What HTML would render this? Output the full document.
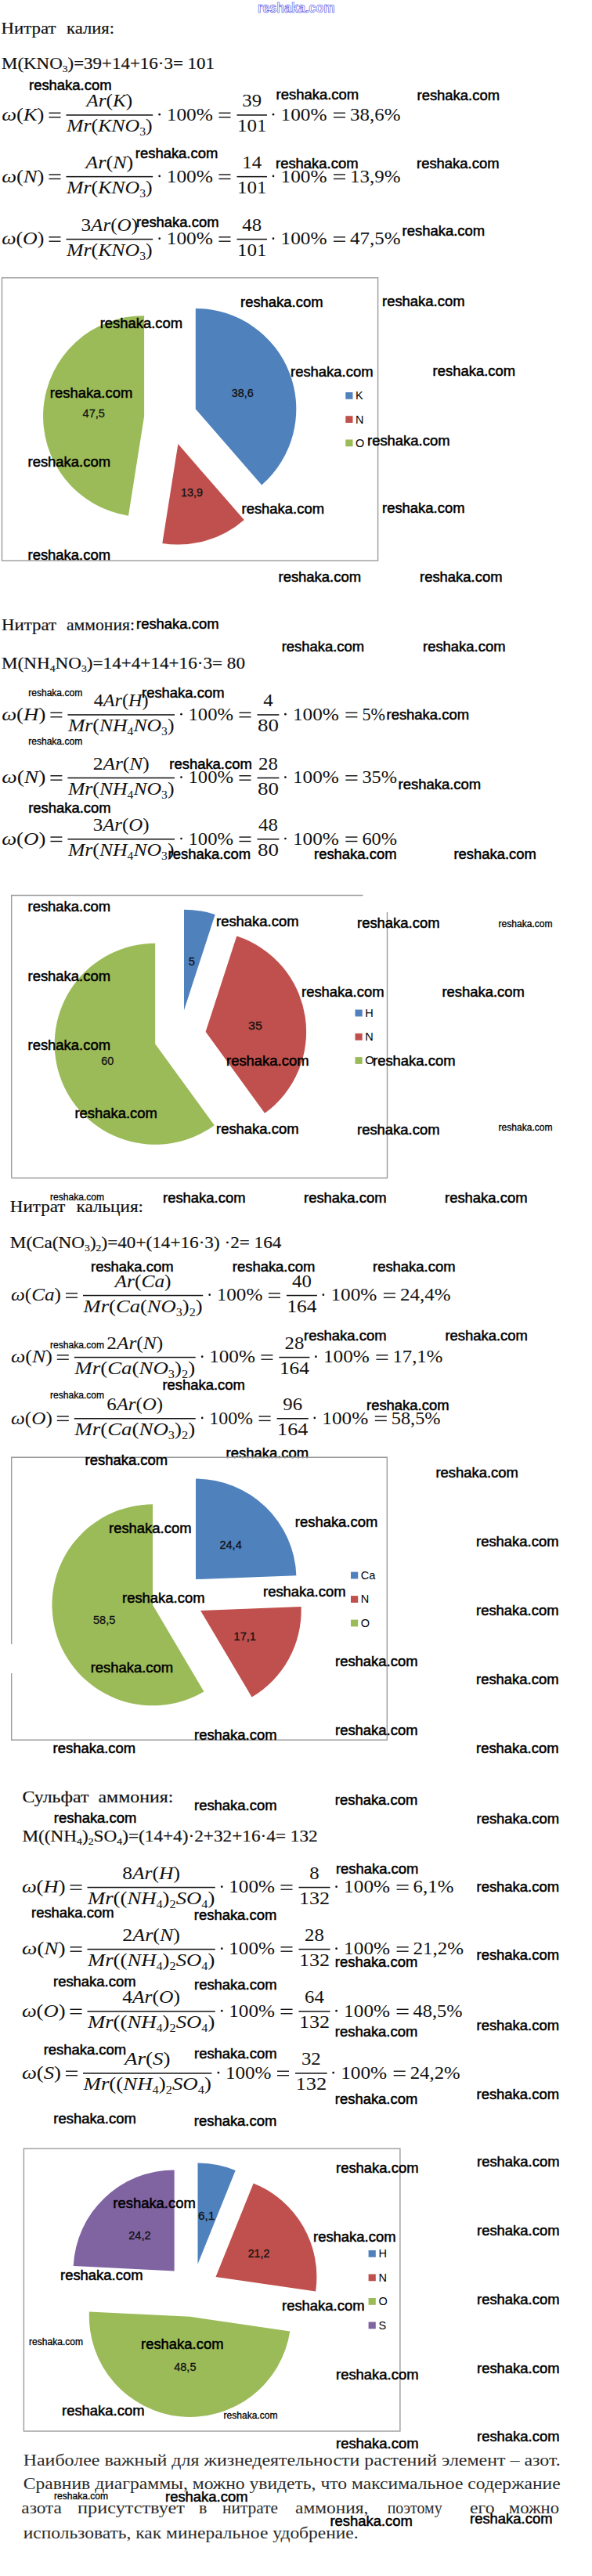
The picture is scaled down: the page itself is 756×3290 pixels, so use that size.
<!DOCTYPE html>
<html><head><meta charset="utf-8"><title>Нитраты</title>
<style>
html,body{margin:0;padding:0;background:#fff;}
body{width:756px;height:3290px;overflow:hidden;}
svg{display:block;}
text{fill:#111;}
.h{font-family:"Liberation Serif",serif;font-size:22px;stroke:#111;stroke-width:0.2;}
.p{font-family:"Liberation Serif",serif;font-size:20.5px;fill:#2a2a2a;}
.sub{font-size:13px;}
.f{font-family:"Liberation Serif",serif;font-size:23px;}
.i{font-style:italic;}
.fsub{font-size:14px;}
.wl{font-family:"Liberation Sans",sans-serif;font-size:18px;fill:#000;stroke:#000;stroke-width:0.5;}
.ws{font-family:"Liberation Sans",sans-serif;font-size:12.5px;fill:#000;stroke:#000;stroke-width:0.3;}
.lb{font-family:"Liberation Sans",sans-serif;font-size:15px;fill:#111;stroke:#111;stroke-width:0.3;}
.lg{font-family:"Liberation Sans",sans-serif;font-size:14.5px;fill:#000;}
.top{font-family:"Liberation Sans",sans-serif;font-weight:bold;font-size:17.5px;fill:#fff;stroke:#3a3ae0;stroke-width:0.6;}
</style></head>
<body>
<svg width="756" height="3290" viewBox="0 0 756 3290">
<text x="329.0" y="16.3" class="top" textLength="98.5" lengthAdjust="spacingAndGlyphs">reshaka.com</text>
<text x="1.5" y="42.6" class="h" textLength="70.0" lengthAdjust="spacingAndGlyphs">Нитрат</text>
<text x="85.0" y="42.6" class="h" textLength="61.0" lengthAdjust="spacingAndGlyphs">калия:</text>
<text x="2.0" y="88.0" class="h" textLength="272.0" lengthAdjust="spacingAndGlyphs">M(KNO<tspan class="sub" dy="4">3</tspan><tspan dy="-4">)=39+14+16·3= 101</tspan></text>
<text x="2.2" y="153.8" class="f" textLength="54.3" lengthAdjust="spacingAndGlyphs"><tspan class="i">ω</tspan>(<tspan class="i">K</tspan>)</text>
<rect x="62.5" y="143.6" width="15" height="1.4" fill="#111"/><rect x="62.5" y="149.0" width="15" height="1.4" fill="#111"/>
<rect x="84.5" y="146.2" width="110.7" height="1.5" fill="#111"/>
<text x="110.3" y="136.0" class="f" textLength="59.0" lengthAdjust="spacingAndGlyphs"><tspan class="i">Ar</tspan>(<tspan class="i">K</tspan>)</text>
<text x="85.0" y="168.3" class="f" textLength="109.7" lengthAdjust="spacingAndGlyphs"><tspan class="i">Mr</tspan>(<tspan class="i">KNO</tspan><tspan class="fsub" dy="5">3</tspan><tspan dy="-5">)</tspan></text>
<circle cx="203.7" cy="146.2" r="1.35" fill="#111"/>
<text x="212.7" y="153.8" class="f" textLength="59.3" lengthAdjust="spacingAndGlyphs">100%</text>
<rect x="279.5" y="143.6" width="15" height="1.4" fill="#111"/><rect x="279.5" y="149.0" width="15" height="1.4" fill="#111"/>
<rect x="302.5" y="146.2" width="38.5" height="1.5" fill="#111"/>
<text x="309.3" y="136.0" class="f" textLength="24.8" lengthAdjust="spacingAndGlyphs">39</text>
<text x="303.0" y="168.3" class="f" textLength="37.5" lengthAdjust="spacingAndGlyphs">101</text>
<circle cx="349.0" cy="146.2" r="1.35" fill="#111"/>
<text x="358.5" y="153.8" class="f" textLength="59.0" lengthAdjust="spacingAndGlyphs">100%</text>
<rect x="426.0" y="143.6" width="15" height="1.4" fill="#111"/><rect x="426.0" y="149.0" width="15" height="1.4" fill="#111"/>
<text x="447.0" y="153.8" class="f" textLength="64.5" lengthAdjust="spacingAndGlyphs">38,6%</text>
<text x="2.2" y="232.5" class="f" textLength="54.3" lengthAdjust="spacingAndGlyphs"><tspan class="i">ω</tspan>(<tspan class="i">N</tspan>)</text>
<rect x="62.5" y="222.3" width="15" height="1.4" fill="#111"/><rect x="62.5" y="227.7" width="15" height="1.4" fill="#111"/>
<rect x="84.5" y="224.9" width="110.7" height="1.5" fill="#111"/>
<text x="109.3" y="214.7" class="f" textLength="61.0" lengthAdjust="spacingAndGlyphs"><tspan class="i">Ar</tspan>(<tspan class="i">N</tspan>)</text>
<text x="85.0" y="247.0" class="f" textLength="109.7" lengthAdjust="spacingAndGlyphs"><tspan class="i">Mr</tspan>(<tspan class="i">KNO</tspan><tspan class="fsub" dy="5">3</tspan><tspan dy="-5">)</tspan></text>
<circle cx="203.7" cy="224.9" r="1.35" fill="#111"/>
<text x="212.7" y="232.5" class="f" textLength="59.3" lengthAdjust="spacingAndGlyphs">100%</text>
<rect x="279.5" y="222.3" width="15" height="1.4" fill="#111"/><rect x="279.5" y="227.7" width="15" height="1.4" fill="#111"/>
<rect x="302.5" y="224.9" width="38.5" height="1.5" fill="#111"/>
<text x="309.3" y="214.7" class="f" textLength="24.8" lengthAdjust="spacingAndGlyphs">14</text>
<text x="303.0" y="247.0" class="f" textLength="37.5" lengthAdjust="spacingAndGlyphs">101</text>
<circle cx="349.0" cy="224.9" r="1.35" fill="#111"/>
<text x="358.5" y="232.5" class="f" textLength="59.0" lengthAdjust="spacingAndGlyphs">100%</text>
<rect x="426.0" y="222.3" width="15" height="1.4" fill="#111"/><rect x="426.0" y="227.7" width="15" height="1.4" fill="#111"/>
<text x="447.0" y="232.5" class="f" textLength="64.5" lengthAdjust="spacingAndGlyphs">13,9%</text>
<text x="2.2" y="312.3" class="f" textLength="54.3" lengthAdjust="spacingAndGlyphs"><tspan class="i">ω</tspan>(<tspan class="i">O</tspan>)</text>
<rect x="62.5" y="302.1" width="15" height="1.4" fill="#111"/><rect x="62.5" y="307.5" width="15" height="1.4" fill="#111"/>
<rect x="84.5" y="304.8" width="110.7" height="1.5" fill="#111"/>
<text x="103.5" y="294.5" class="f" textLength="72.6" lengthAdjust="spacingAndGlyphs">3<tspan class="i">Ar</tspan>(<tspan class="i">O</tspan>)</text>
<text x="85.0" y="326.8" class="f" textLength="109.7" lengthAdjust="spacingAndGlyphs"><tspan class="i">Mr</tspan>(<tspan class="i">KNO</tspan><tspan class="fsub" dy="5">3</tspan><tspan dy="-5">)</tspan></text>
<circle cx="203.7" cy="304.7" r="1.35" fill="#111"/>
<text x="212.7" y="312.3" class="f" textLength="59.3" lengthAdjust="spacingAndGlyphs">100%</text>
<rect x="279.5" y="302.1" width="15" height="1.4" fill="#111"/><rect x="279.5" y="307.5" width="15" height="1.4" fill="#111"/>
<rect x="302.5" y="304.8" width="38.5" height="1.5" fill="#111"/>
<text x="309.3" y="294.5" class="f" textLength="24.8" lengthAdjust="spacingAndGlyphs">48</text>
<text x="303.0" y="326.8" class="f" textLength="37.5" lengthAdjust="spacingAndGlyphs">101</text>
<circle cx="349.0" cy="304.7" r="1.35" fill="#111"/>
<text x="358.5" y="312.3" class="f" textLength="59.0" lengthAdjust="spacingAndGlyphs">100%</text>
<rect x="426.0" y="302.1" width="15" height="1.4" fill="#111"/><rect x="426.0" y="307.5" width="15" height="1.4" fill="#111"/>
<text x="447.0" y="312.3" class="f" textLength="64.5" lengthAdjust="spacingAndGlyphs">47,5%</text>
<text x="37.0" y="115.0" class="wl" textLength="105.5" lengthAdjust="spacingAndGlyphs">reshaka.com</text>
<text x="352.6" y="127.4" class="wl" textLength="105.5" lengthAdjust="spacingAndGlyphs">reshaka.com</text>
<text x="532.5" y="127.5" class="wl" textLength="105.5" lengthAdjust="spacingAndGlyphs">reshaka.com</text>
<text x="172.8" y="202.3" class="wl" textLength="105.5" lengthAdjust="spacingAndGlyphs">reshaka.com</text>
<text x="352.0" y="215.0" class="wl" textLength="105.5" lengthAdjust="spacingAndGlyphs">reshaka.com</text>
<text x="532.0" y="215.0" class="wl" textLength="105.5" lengthAdjust="spacingAndGlyphs">reshaka.com</text>
<text x="174.0" y="289.5" class="wl" textLength="105.5" lengthAdjust="spacingAndGlyphs">reshaka.com</text>
<text x="513.6" y="301.0" class="wl" textLength="105.5" lengthAdjust="spacingAndGlyphs">reshaka.com</text>
<rect x="2.5" y="354.8" width="480.1" height="361.2" fill="none" stroke="#9c9c9c" stroke-width="1.4"/>
<path d="M249.8,522.5 L249.8,394.0 A128.5,128.5 0 0 1 334.2,619.4 Z" fill="#4F81BD"/>
<path d="M227.4,567.1 L311.8,664.0 A128.5,128.5 0 0 1 207.3,694.0 Z" fill="#C0504D"/>
<path d="M184.1,531.7 L164.0,658.7 A128.5,128.5 0 0 1 184.1,403.2 Z" fill="#9BBB59"/>
<text x="295.7" y="506.8" class="lb" textLength="28.0" lengthAdjust="spacingAndGlyphs">38,6</text>
<text x="105.6" y="533.2" class="lb" textLength="28.4" lengthAdjust="spacingAndGlyphs">47,5</text>
<text x="231.1" y="634.3" class="lb" textLength="28.0" lengthAdjust="spacingAndGlyphs">13,9</text>
<rect x="441.3" y="501.0" width="9.2" height="8.8" fill="#4F81BD"/>
<text x="454.1" y="510.3" class="lg">K</text>
<rect x="441.3" y="531.2" width="9.2" height="8.8" fill="#C0504D"/>
<text x="454.1" y="540.5" class="lg">N</text>
<rect x="441.3" y="561.4" width="9.2" height="8.8" fill="#9BBB59"/>
<text x="454.1" y="570.7" class="lg">O</text>
<text x="307.0" y="392.0" class="wl" textLength="105.5" lengthAdjust="spacingAndGlyphs">reshaka.com</text>
<text x="488.0" y="391.4" class="wl" textLength="105.5" lengthAdjust="spacingAndGlyphs">reshaka.com</text>
<text x="127.7" y="419.0" class="wl" textLength="105.5" lengthAdjust="spacingAndGlyphs">reshaka.com</text>
<text x="63.8" y="507.5" class="wl" textLength="105.5" lengthAdjust="spacingAndGlyphs">reshaka.com</text>
<text x="371.0" y="480.6" class="wl" textLength="105.5" lengthAdjust="spacingAndGlyphs">reshaka.com</text>
<text x="552.6" y="480.0" class="wl" textLength="105.5" lengthAdjust="spacingAndGlyphs">reshaka.com</text>
<text x="469.0" y="569.0" class="wl" textLength="105.5" lengthAdjust="spacingAndGlyphs">reshaka.com</text>
<text x="35.5" y="596.0" class="wl" textLength="105.5" lengthAdjust="spacingAndGlyphs">reshaka.com</text>
<text x="308.5" y="655.7" class="wl" textLength="105.5" lengthAdjust="spacingAndGlyphs">reshaka.com</text>
<text x="488.0" y="655.0" class="wl" textLength="105.5" lengthAdjust="spacingAndGlyphs">reshaka.com</text>
<text x="35.5" y="714.6" class="wl" textLength="105.5" lengthAdjust="spacingAndGlyphs">reshaka.com</text>
<text x="355.5" y="742.6" class="wl" textLength="105.5" lengthAdjust="spacingAndGlyphs">reshaka.com</text>
<text x="536.0" y="742.6" class="wl" textLength="105.5" lengthAdjust="spacingAndGlyphs">reshaka.com</text>
<text x="2.0" y="805.0" class="h" textLength="70.0" lengthAdjust="spacingAndGlyphs">Нитрат</text>
<text x="85.0" y="805.0" class="h" textLength="87.0" lengthAdjust="spacingAndGlyphs">аммония:</text>
<text x="2.0" y="854.3" class="h" textLength="311.0" lengthAdjust="spacingAndGlyphs">M(NH<tspan class="sub" dy="4">4</tspan><tspan dy="-4">NO</tspan><tspan class="sub" dy="4">3</tspan><tspan dy="-4">)=14+4+14+16·3= 80</tspan></text>
<text x="2.2" y="919.8" class="f" textLength="56.2" lengthAdjust="spacingAndGlyphs"><tspan class="i">ω</tspan>(<tspan class="i">H</tspan>)</text>
<rect x="64.4" y="909.6" width="15" height="1.4" fill="#111"/><rect x="64.4" y="915.0" width="15" height="1.4" fill="#111"/>
<rect x="86.4" y="912.2" width="136.6" height="1.5" fill="#111"/>
<text x="119.7" y="902.0" class="f" textLength="70.0" lengthAdjust="spacingAndGlyphs">4<tspan class="i">Ar</tspan>(<tspan class="i">H</tspan>)</text>
<text x="86.9" y="934.3" class="f" textLength="135.6" lengthAdjust="spacingAndGlyphs"><tspan class="i">Mr</tspan>(<tspan class="i">NH</tspan><tspan class="fsub" dy="5">4</tspan><tspan class="i" dy="-5">NO</tspan><tspan class="fsub" dy="5">3</tspan><tspan dy="-5">)</tspan></text>
<circle cx="231.5" cy="912.2" r="1.35" fill="#111"/>
<text x="240.5" y="919.8" class="f" textLength="57.5" lengthAdjust="spacingAndGlyphs">100%</text>
<rect x="305.5" y="909.6" width="15" height="1.4" fill="#111"/><rect x="305.5" y="915.0" width="15" height="1.4" fill="#111"/>
<rect x="328.5" y="912.2" width="27.9" height="1.5" fill="#111"/>
<text x="336.2" y="902.0" class="f" textLength="12.4" lengthAdjust="spacingAndGlyphs">4</text>
<text x="329.0" y="934.3" class="f" textLength="26.9" lengthAdjust="spacingAndGlyphs">80</text>
<circle cx="364.4" cy="912.2" r="1.35" fill="#111"/>
<text x="373.9" y="919.8" class="f" textLength="59.0" lengthAdjust="spacingAndGlyphs">100%</text>
<rect x="441.4" y="909.6" width="15" height="1.4" fill="#111"/><rect x="441.4" y="915.0" width="15" height="1.4" fill="#111"/>
<text x="462.4" y="919.8" class="f" textLength="29.6" lengthAdjust="spacingAndGlyphs">5%</text>
<text x="2.2" y="1000.3" class="f" textLength="56.2" lengthAdjust="spacingAndGlyphs"><tspan class="i">ω</tspan>(<tspan class="i">N</tspan>)</text>
<rect x="64.4" y="990.1" width="15" height="1.4" fill="#111"/><rect x="64.4" y="995.5" width="15" height="1.4" fill="#111"/>
<rect x="86.4" y="992.8" width="136.6" height="1.5" fill="#111"/>
<text x="118.7" y="982.5" class="f" textLength="72.0" lengthAdjust="spacingAndGlyphs">2<tspan class="i">Ar</tspan>(<tspan class="i">N</tspan>)</text>
<text x="86.9" y="1014.8" class="f" textLength="135.6" lengthAdjust="spacingAndGlyphs"><tspan class="i">Mr</tspan>(<tspan class="i">NH</tspan><tspan class="fsub" dy="5">4</tspan><tspan class="i" dy="-5">NO</tspan><tspan class="fsub" dy="5">3</tspan><tspan dy="-5">)</tspan></text>
<circle cx="231.5" cy="992.7" r="1.35" fill="#111"/>
<text x="240.5" y="1000.3" class="f" textLength="57.5" lengthAdjust="spacingAndGlyphs">100%</text>
<rect x="305.5" y="990.1" width="15" height="1.4" fill="#111"/><rect x="305.5" y="995.5" width="15" height="1.4" fill="#111"/>
<rect x="328.5" y="992.8" width="27.9" height="1.5" fill="#111"/>
<text x="330.0" y="982.5" class="f" textLength="24.8" lengthAdjust="spacingAndGlyphs">28</text>
<text x="329.0" y="1014.8" class="f" textLength="26.9" lengthAdjust="spacingAndGlyphs">80</text>
<circle cx="364.4" cy="992.7" r="1.35" fill="#111"/>
<text x="373.9" y="1000.3" class="f" textLength="59.0" lengthAdjust="spacingAndGlyphs">100%</text>
<rect x="441.4" y="990.1" width="15" height="1.4" fill="#111"/><rect x="441.4" y="995.5" width="15" height="1.4" fill="#111"/>
<text x="462.4" y="1000.3" class="f" textLength="44.6" lengthAdjust="spacingAndGlyphs">35%</text>
<text x="2.2" y="1078.6" class="f" textLength="56.2" lengthAdjust="spacingAndGlyphs"><tspan class="i">ω</tspan>(<tspan class="i">O</tspan>)</text>
<rect x="64.4" y="1068.4" width="15" height="1.4" fill="#111"/><rect x="64.4" y="1073.8" width="15" height="1.4" fill="#111"/>
<rect x="86.4" y="1071.0" width="136.6" height="1.5" fill="#111"/>
<text x="118.7" y="1060.8" class="f" textLength="72.0" lengthAdjust="spacingAndGlyphs">3<tspan class="i">Ar</tspan>(<tspan class="i">O</tspan>)</text>
<text x="86.9" y="1093.1" class="f" textLength="135.6" lengthAdjust="spacingAndGlyphs"><tspan class="i">Mr</tspan>(<tspan class="i">NH</tspan><tspan class="fsub" dy="5">4</tspan><tspan class="i" dy="-5">NO</tspan><tspan class="fsub" dy="5">3</tspan><tspan dy="-5">)</tspan></text>
<circle cx="231.5" cy="1071.0" r="1.35" fill="#111"/>
<text x="240.5" y="1078.6" class="f" textLength="57.5" lengthAdjust="spacingAndGlyphs">100%</text>
<rect x="305.5" y="1068.4" width="15" height="1.4" fill="#111"/><rect x="305.5" y="1073.8" width="15" height="1.4" fill="#111"/>
<rect x="328.5" y="1071.0" width="27.9" height="1.5" fill="#111"/>
<text x="330.0" y="1060.8" class="f" textLength="24.8" lengthAdjust="spacingAndGlyphs">48</text>
<text x="329.0" y="1093.1" class="f" textLength="26.9" lengthAdjust="spacingAndGlyphs">80</text>
<circle cx="364.4" cy="1071.0" r="1.35" fill="#111"/>
<text x="373.9" y="1078.6" class="f" textLength="59.0" lengthAdjust="spacingAndGlyphs">100%</text>
<rect x="441.4" y="1068.4" width="15" height="1.4" fill="#111"/><rect x="441.4" y="1073.8" width="15" height="1.4" fill="#111"/>
<text x="462.4" y="1078.6" class="f" textLength="44.6" lengthAdjust="spacingAndGlyphs">60%</text>
<text x="174.0" y="803.0" class="wl" textLength="105.5" lengthAdjust="spacingAndGlyphs">reshaka.com</text>
<text x="359.7" y="832.0" class="wl" textLength="105.5" lengthAdjust="spacingAndGlyphs">reshaka.com</text>
<text x="540.0" y="832.0" class="wl" textLength="105.5" lengthAdjust="spacingAndGlyphs">reshaka.com</text>
<text x="181.0" y="891.4" class="wl" textLength="105.5" lengthAdjust="spacingAndGlyphs">reshaka.com</text>
<text x="493.5" y="918.5" class="wl" textLength="105.5" lengthAdjust="spacingAndGlyphs">reshaka.com</text>
<text x="216.3" y="982.0" class="wl" textLength="105.5" lengthAdjust="spacingAndGlyphs">reshaka.com</text>
<text x="508.6" y="1008.0" class="wl" textLength="105.5" lengthAdjust="spacingAndGlyphs">reshaka.com</text>
<text x="36.2" y="1038.0" class="wl" textLength="105.5" lengthAdjust="spacingAndGlyphs">reshaka.com</text>
<text x="214.6" y="1097.0" class="wl" textLength="105.5" lengthAdjust="spacingAndGlyphs">reshaka.com</text>
<text x="401.0" y="1097.0" class="wl" textLength="105.5" lengthAdjust="spacingAndGlyphs">reshaka.com</text>
<text x="579.4" y="1097.0" class="wl" textLength="105.5" lengthAdjust="spacingAndGlyphs">reshaka.com</text>
<text x="36.2" y="888.7" class="ws" textLength="69.0" lengthAdjust="spacingAndGlyphs">reshaka.com</text>
<text x="36.2" y="951.4" class="ws" textLength="69.0" lengthAdjust="spacingAndGlyphs">reshaka.com</text>
<path d="M14.7,1504.5 L14.7,1143.5 L463.5,1143.5 M494.5,1165 L494.5,1504.5 L14.7,1504.5" fill="none" stroke="#9c9c9c" stroke-width="1.4"/>
<path d="M235.0,1290.2 L235.0,1161.7 A128.5,128.5 0 0 1 274.7,1168.0 Z" fill="#4F81BD"/>
<path d="M262.6,1317.8 L302.3,1195.6 A128.5,128.5 0 0 1 338.1,1421.8 Z" fill="#C0504D"/>
<path d="M198.2,1333.3 L273.8,1437.2 A128.5,128.5 0 1 1 198.2,1204.8 Z" fill="#9BBB59"/>
<text x="240.8" y="1233.4" class="lb" textLength="8.2" lengthAdjust="spacingAndGlyphs">5</text>
<text x="317.0" y="1315.2" class="lb" textLength="17.8" lengthAdjust="spacingAndGlyphs">35</text>
<text x="129.3" y="1359.8" class="lb" textLength="16.0" lengthAdjust="spacingAndGlyphs">60</text>
<rect x="453.5" y="1289.5" width="9.2" height="8.8" fill="#4F81BD"/>
<text x="466.3" y="1298.8" class="lg">H</text>
<rect x="453.5" y="1319.8" width="9.2" height="8.8" fill="#C0504D"/>
<text x="466.3" y="1329.1" class="lg">N</text>
<rect x="453.5" y="1350.1" width="9.2" height="8.8" fill="#9BBB59"/>
<text x="466.3" y="1359.4" class="lg">O</text>
<text x="35.5" y="1164.0" class="wl" textLength="105.5" lengthAdjust="spacingAndGlyphs">reshaka.com</text>
<text x="276.0" y="1183.3" class="wl" textLength="105.5" lengthAdjust="spacingAndGlyphs">reshaka.com</text>
<text x="456.0" y="1184.5" class="wl" textLength="105.5" lengthAdjust="spacingAndGlyphs">reshaka.com</text>
<text x="35.5" y="1252.5" class="wl" textLength="105.5" lengthAdjust="spacingAndGlyphs">reshaka.com</text>
<text x="385.0" y="1273.0" class="wl" textLength="105.5" lengthAdjust="spacingAndGlyphs">reshaka.com</text>
<text x="564.4" y="1273.0" class="wl" textLength="105.5" lengthAdjust="spacingAndGlyphs">reshaka.com</text>
<text x="35.5" y="1341.2" class="wl" textLength="105.5" lengthAdjust="spacingAndGlyphs">reshaka.com</text>
<text x="289.0" y="1360.5" class="wl" textLength="105.5" lengthAdjust="spacingAndGlyphs">reshaka.com</text>
<text x="476.0" y="1361.0" class="wl" textLength="105.5" lengthAdjust="spacingAndGlyphs">reshaka.com</text>
<text x="95.4" y="1428.2" class="wl" textLength="105.5" lengthAdjust="spacingAndGlyphs">reshaka.com</text>
<text x="276.0" y="1447.5" class="wl" textLength="105.5" lengthAdjust="spacingAndGlyphs">reshaka.com</text>
<text x="456.0" y="1449.0" class="wl" textLength="105.5" lengthAdjust="spacingAndGlyphs">reshaka.com</text>
<text x="208.0" y="1536.0" class="wl" textLength="105.5" lengthAdjust="spacingAndGlyphs">reshaka.com</text>
<text x="388.0" y="1536.0" class="wl" textLength="105.5" lengthAdjust="spacingAndGlyphs">reshaka.com</text>
<text x="568.0" y="1536.0" class="wl" textLength="105.5" lengthAdjust="spacingAndGlyphs">reshaka.com</text>
<text x="636.5" y="1183.8" class="ws" textLength="69.0" lengthAdjust="spacingAndGlyphs">reshaka.com</text>
<text x="636.5" y="1444.4" class="ws" textLength="69.0" lengthAdjust="spacingAndGlyphs">reshaka.com</text>
<text x="64.0" y="1532.5" class="ws" textLength="69.0" lengthAdjust="spacingAndGlyphs">reshaka.com</text>
<text x="12.8" y="1547.5" class="h" textLength="70.6" lengthAdjust="spacingAndGlyphs">Нитрат</text>
<text x="97.6" y="1547.5" class="h" textLength="85.4" lengthAdjust="spacingAndGlyphs">кальция:</text>
<text x="12.8" y="1594.0" class="h" textLength="346.6" lengthAdjust="spacingAndGlyphs">M(Ca(NO<tspan class="sub" dy="4">3</tspan><tspan dy="-4">)</tspan><tspan class="sub" dy="4">2</tspan><tspan dy="-4">)=40+(14+16·3) ·2= 164</tspan></text>
<text x="14.0" y="1661.3" class="f" textLength="64.0" lengthAdjust="spacingAndGlyphs"><tspan class="i">ω</tspan>(<tspan class="i">Ca</tspan>)</text>
<rect x="84.0" y="1651.1" width="15" height="1.4" fill="#111"/><rect x="84.0" y="1656.5" width="15" height="1.4" fill="#111"/>
<rect x="106.0" y="1653.8" width="153.2" height="1.5" fill="#111"/>
<text x="146.6" y="1643.5" class="f" textLength="72.0" lengthAdjust="spacingAndGlyphs"><tspan class="i">Ar</tspan>(<tspan class="i">Ca</tspan>)</text>
<text x="106.5" y="1675.8" class="f" textLength="152.2" lengthAdjust="spacingAndGlyphs"><tspan class="i">Mr</tspan>(<tspan class="i">Ca</tspan>(<tspan class="i">NO</tspan><tspan class="fsub" dy="5">3</tspan><tspan dy="-5">)</tspan><tspan class="fsub" dy="5">2</tspan><tspan dy="-5">)</tspan></text>
<circle cx="267.7" cy="1653.7" r="1.35" fill="#111"/>
<text x="276.7" y="1661.3" class="f" textLength="58.7" lengthAdjust="spacingAndGlyphs">100%</text>
<rect x="342.9" y="1651.1" width="15" height="1.4" fill="#111"/><rect x="342.9" y="1656.5" width="15" height="1.4" fill="#111"/>
<rect x="365.9" y="1653.8" width="39.0" height="1.5" fill="#111"/>
<text x="373.0" y="1643.5" class="f" textLength="24.8" lengthAdjust="spacingAndGlyphs">40</text>
<text x="366.4" y="1675.8" class="f" textLength="38.0" lengthAdjust="spacingAndGlyphs">164</text>
<circle cx="412.9" cy="1653.7" r="1.35" fill="#111"/>
<text x="422.4" y="1661.3" class="f" textLength="59.0" lengthAdjust="spacingAndGlyphs">100%</text>
<rect x="489.9" y="1651.1" width="15" height="1.4" fill="#111"/><rect x="489.9" y="1656.5" width="15" height="1.4" fill="#111"/>
<text x="510.9" y="1661.3" class="f" textLength="64.6" lengthAdjust="spacingAndGlyphs">24,4%</text>
<text x="14.0" y="1740.3" class="f" textLength="52.8" lengthAdjust="spacingAndGlyphs"><tspan class="i">ω</tspan>(<tspan class="i">N</tspan>)</text>
<rect x="72.8" y="1730.1" width="15" height="1.4" fill="#111"/><rect x="72.8" y="1735.5" width="15" height="1.4" fill="#111"/>
<rect x="94.8" y="1732.8" width="154.9" height="1.5" fill="#111"/>
<text x="136.2" y="1722.5" class="f" textLength="72.0" lengthAdjust="spacingAndGlyphs">2<tspan class="i">Ar</tspan>(<tspan class="i">N</tspan>)</text>
<text x="95.3" y="1754.8" class="f" textLength="153.9" lengthAdjust="spacingAndGlyphs"><tspan class="i">Mr</tspan>(<tspan class="i">Ca</tspan>(<tspan class="i">NO</tspan><tspan class="fsub" dy="5">3</tspan><tspan dy="-5">)</tspan><tspan class="fsub" dy="5">2</tspan><tspan dy="-5">)</tspan></text>
<circle cx="258.2" cy="1732.7" r="1.35" fill="#111"/>
<text x="267.2" y="1740.3" class="f" textLength="58.7" lengthAdjust="spacingAndGlyphs">100%</text>
<rect x="333.4" y="1730.1" width="15" height="1.4" fill="#111"/><rect x="333.4" y="1735.5" width="15" height="1.4" fill="#111"/>
<rect x="356.4" y="1732.8" width="39.0" height="1.5" fill="#111"/>
<text x="363.5" y="1722.5" class="f" textLength="24.8" lengthAdjust="spacingAndGlyphs">28</text>
<text x="356.9" y="1754.8" class="f" textLength="38.0" lengthAdjust="spacingAndGlyphs">164</text>
<circle cx="403.4" cy="1732.7" r="1.35" fill="#111"/>
<text x="412.9" y="1740.3" class="f" textLength="59.0" lengthAdjust="spacingAndGlyphs">100%</text>
<rect x="480.4" y="1730.1" width="15" height="1.4" fill="#111"/><rect x="480.4" y="1735.5" width="15" height="1.4" fill="#111"/>
<text x="501.4" y="1740.3" class="f" textLength="64.0" lengthAdjust="spacingAndGlyphs">17,1%</text>
<text x="14.0" y="1818.5" class="f" textLength="52.8" lengthAdjust="spacingAndGlyphs"><tspan class="i">ω</tspan>(<tspan class="i">O</tspan>)</text>
<rect x="72.8" y="1808.3" width="15" height="1.4" fill="#111"/><rect x="72.8" y="1813.7" width="15" height="1.4" fill="#111"/>
<rect x="94.8" y="1811.0" width="154.9" height="1.5" fill="#111"/>
<text x="136.2" y="1800.7" class="f" textLength="72.0" lengthAdjust="spacingAndGlyphs">6<tspan class="i">Ar</tspan>(<tspan class="i">O</tspan>)</text>
<text x="95.3" y="1833.0" class="f" textLength="153.9" lengthAdjust="spacingAndGlyphs"><tspan class="i">Mr</tspan>(<tspan class="i">Ca</tspan>(<tspan class="i">NO</tspan><tspan class="fsub" dy="5">3</tspan><tspan dy="-5">)</tspan><tspan class="fsub" dy="5">2</tspan><tspan dy="-5">)</tspan></text>
<circle cx="258.2" cy="1810.9" r="1.35" fill="#111"/>
<text x="267.2" y="1818.5" class="f" textLength="55.9" lengthAdjust="spacingAndGlyphs">100%</text>
<rect x="330.6" y="1808.3" width="15" height="1.4" fill="#111"/><rect x="330.6" y="1813.7" width="15" height="1.4" fill="#111"/>
<rect x="353.6" y="1811.0" width="40.2" height="1.5" fill="#111"/>
<text x="361.3" y="1800.7" class="f" textLength="24.8" lengthAdjust="spacingAndGlyphs">96</text>
<text x="354.1" y="1833.0" class="f" textLength="39.2" lengthAdjust="spacingAndGlyphs">164</text>
<circle cx="401.8" cy="1810.9" r="1.35" fill="#111"/>
<text x="411.3" y="1818.5" class="f" textLength="59.0" lengthAdjust="spacingAndGlyphs">100%</text>
<rect x="478.8" y="1808.3" width="15" height="1.4" fill="#111"/><rect x="478.8" y="1813.7" width="15" height="1.4" fill="#111"/>
<text x="499.8" y="1818.5" class="f" textLength="62.8" lengthAdjust="spacingAndGlyphs">58,5%</text>
<text x="116.0" y="1624.0" class="wl" textLength="105.5" lengthAdjust="spacingAndGlyphs">reshaka.com</text>
<text x="296.8" y="1623.5" class="wl" textLength="105.5" lengthAdjust="spacingAndGlyphs">reshaka.com</text>
<text x="476.0" y="1623.5" class="wl" textLength="105.5" lengthAdjust="spacingAndGlyphs">reshaka.com</text>
<text x="388.0" y="1711.5" class="wl" textLength="105.5" lengthAdjust="spacingAndGlyphs">reshaka.com</text>
<text x="568.4" y="1711.5" class="wl" textLength="105.5" lengthAdjust="spacingAndGlyphs">reshaka.com</text>
<text x="207.4" y="1775.0" class="wl" textLength="105.5" lengthAdjust="spacingAndGlyphs">reshaka.com</text>
<text x="468.0" y="1800.5" class="wl" textLength="105.5" lengthAdjust="spacingAndGlyphs">reshaka.com</text>
<text x="288.6" y="1862.0" class="wl" textLength="105.5" lengthAdjust="spacingAndGlyphs">reshaka.com</text>
<text x="64.0" y="1721.5" class="ws" textLength="69.0" lengthAdjust="spacingAndGlyphs">reshaka.com</text>
<text x="64.0" y="1785.5" class="ws" textLength="69.0" lengthAdjust="spacingAndGlyphs">reshaka.com</text>
<path d="M14.7,2100 L14.7,1861.3 L494.3,1861.3 L494.3,2222.3 L14.7,2222.3 L14.7,2137" fill="none" stroke="#9c9c9c" stroke-width="1.4"/>
<path d="M250.0,2017.1 L250.0,1888.6 A128.5,128.5 0 0 1 378.4,2012.2 Z" fill="#4F81BD"/>
<path d="M256.1,2056.9 L384.6,2052.1 A128.5,128.5 0 0 1 321.6,2167.5 Z" fill="#C0504D"/>
<path d="M195.0,2049.8 L260.4,2160.4 A128.5,128.5 0 1 1 195.0,1921.3 Z" fill="#9BBB59"/>
<text x="280.4" y="1978.4" class="lb" textLength="28.4" lengthAdjust="spacingAndGlyphs">24,4</text>
<text x="298.6" y="2095.0" class="lb" textLength="28.4" lengthAdjust="spacingAndGlyphs">17,1</text>
<text x="119.0" y="2073.6" class="lb" textLength="28.4" lengthAdjust="spacingAndGlyphs">58,5</text>
<rect x="448" y="2007.6" width="9.2" height="8.8" fill="#4F81BD"/>
<text x="460.8" y="2016.9" class="lg">Ca</text>
<rect x="448" y="2038.1" width="9.2" height="8.8" fill="#C0504D"/>
<text x="460.8" y="2047.4" class="lg">N</text>
<rect x="448" y="2068.6" width="9.2" height="8.8" fill="#9BBB59"/>
<text x="460.8" y="2077.9" class="lg">O</text>
<text x="108.6" y="1870.5" class="wl" textLength="105.5" lengthAdjust="spacingAndGlyphs">reshaka.com</text>
<text x="556.4" y="1887.0" class="wl" textLength="105.5" lengthAdjust="spacingAndGlyphs">reshaka.com</text>
<text x="376.8" y="1949.7" class="wl" textLength="105.5" lengthAdjust="spacingAndGlyphs">reshaka.com</text>
<text x="139.0" y="1958.0" class="wl" textLength="105.5" lengthAdjust="spacingAndGlyphs">reshaka.com</text>
<text x="608.0" y="1975.0" class="wl" textLength="105.5" lengthAdjust="spacingAndGlyphs">reshaka.com</text>
<text x="156.0" y="2047.0" class="wl" textLength="105.5" lengthAdjust="spacingAndGlyphs">reshaka.com</text>
<text x="336.0" y="2039.0" class="wl" textLength="105.5" lengthAdjust="spacingAndGlyphs">reshaka.com</text>
<text x="608.0" y="2063.0" class="wl" textLength="105.5" lengthAdjust="spacingAndGlyphs">reshaka.com</text>
<text x="115.7" y="2135.6" class="wl" textLength="105.5" lengthAdjust="spacingAndGlyphs">reshaka.com</text>
<text x="428.0" y="2127.5" class="wl" textLength="105.5" lengthAdjust="spacingAndGlyphs">reshaka.com</text>
<text x="608.0" y="2151.0" class="wl" textLength="105.5" lengthAdjust="spacingAndGlyphs">reshaka.com</text>
<text x="67.6" y="2238.6" class="wl" textLength="105.5" lengthAdjust="spacingAndGlyphs">reshaka.com</text>
<text x="248.0" y="2221.6" class="wl" textLength="105.5" lengthAdjust="spacingAndGlyphs">reshaka.com</text>
<text x="428.0" y="2216.0" class="wl" textLength="105.5" lengthAdjust="spacingAndGlyphs">reshaka.com</text>
<text x="608.0" y="2239.0" class="wl" textLength="105.5" lengthAdjust="spacingAndGlyphs">reshaka.com</text>
<text x="28.4" y="2302.0" class="h" textLength="85.0" lengthAdjust="spacingAndGlyphs">Сульфат</text>
<text x="125.5" y="2302.0" class="h" textLength="95.8" lengthAdjust="spacingAndGlyphs">аммония:</text>
<text x="28.4" y="2351.5" class="h" textLength="377.3" lengthAdjust="spacingAndGlyphs">M((NH<tspan class="sub" dy="4">4</tspan><tspan dy="-4">)</tspan><tspan class="sub" dy="4">2</tspan><tspan dy="-4">SO</tspan><tspan class="sub" dy="4">4</tspan><tspan dy="-4">)=(14+4)·2+32+16·4= 132</tspan></text>
<text x="27.9" y="2417.3" class="f" textLength="55.6" lengthAdjust="spacingAndGlyphs"><tspan class="i">ω</tspan>(<tspan class="i">H</tspan>)</text>
<rect x="89.5" y="2407.1" width="15" height="1.4" fill="#111"/><rect x="89.5" y="2412.5" width="15" height="1.4" fill="#111"/>
<rect x="111.5" y="2409.8" width="163.3" height="1.5" fill="#111"/>
<text x="156.3" y="2399.5" class="f" textLength="73.7" lengthAdjust="spacingAndGlyphs">8<tspan class="i">Ar</tspan>(<tspan class="i">H</tspan>)</text>
<text x="112.0" y="2431.8" class="f" textLength="162.3" lengthAdjust="spacingAndGlyphs"><tspan class="i">Mr</tspan>((<tspan class="i">NH</tspan><tspan class="fsub" dy="5">4</tspan><tspan dy="-5">)</tspan><tspan class="fsub" dy="5">2</tspan><tspan class="i" dy="-5">SO</tspan><tspan class="fsub" dy="5">4</tspan><tspan dy="-5">)</tspan></text>
<circle cx="283.3" cy="2409.7" r="1.35" fill="#111"/>
<text x="292.3" y="2417.3" class="f" textLength="58.7" lengthAdjust="spacingAndGlyphs">100%</text>
<rect x="358.5" y="2407.1" width="15" height="1.4" fill="#111"/><rect x="358.5" y="2412.5" width="15" height="1.4" fill="#111"/>
<rect x="381.5" y="2409.8" width="40.1" height="1.5" fill="#111"/>
<text x="395.3" y="2399.5" class="f" textLength="12.4" lengthAdjust="spacingAndGlyphs">8</text>
<text x="382.0" y="2431.8" class="f" textLength="39.1" lengthAdjust="spacingAndGlyphs">132</text>
<circle cx="429.6" cy="2409.7" r="1.35" fill="#111"/>
<text x="439.1" y="2417.3" class="f" textLength="59.0" lengthAdjust="spacingAndGlyphs">100%</text>
<rect x="506.6" y="2407.1" width="15" height="1.4" fill="#111"/><rect x="506.6" y="2412.5" width="15" height="1.4" fill="#111"/>
<text x="527.6" y="2417.3" class="f" textLength="51.8" lengthAdjust="spacingAndGlyphs">6,1%</text>
<text x="27.9" y="2496.3" class="f" textLength="55.6" lengthAdjust="spacingAndGlyphs"><tspan class="i">ω</tspan>(<tspan class="i">N</tspan>)</text>
<rect x="89.5" y="2486.1" width="15" height="1.4" fill="#111"/><rect x="89.5" y="2491.5" width="15" height="1.4" fill="#111"/>
<rect x="111.5" y="2488.8" width="163.3" height="1.5" fill="#111"/>
<text x="156.3" y="2478.5" class="f" textLength="73.7" lengthAdjust="spacingAndGlyphs">2<tspan class="i">Ar</tspan>(<tspan class="i">N</tspan>)</text>
<text x="112.0" y="2510.8" class="f" textLength="162.3" lengthAdjust="spacingAndGlyphs"><tspan class="i">Mr</tspan>((<tspan class="i">NH</tspan><tspan class="fsub" dy="5">4</tspan><tspan dy="-5">)</tspan><tspan class="fsub" dy="5">2</tspan><tspan class="i" dy="-5">SO</tspan><tspan class="fsub" dy="5">4</tspan><tspan dy="-5">)</tspan></text>
<circle cx="283.3" cy="2488.7" r="1.35" fill="#111"/>
<text x="292.3" y="2496.3" class="f" textLength="58.7" lengthAdjust="spacingAndGlyphs">100%</text>
<rect x="358.5" y="2486.1" width="15" height="1.4" fill="#111"/><rect x="358.5" y="2491.5" width="15" height="1.4" fill="#111"/>
<rect x="381.5" y="2488.8" width="40.1" height="1.5" fill="#111"/>
<text x="389.1" y="2478.5" class="f" textLength="24.8" lengthAdjust="spacingAndGlyphs">28</text>
<text x="382.0" y="2510.8" class="f" textLength="39.1" lengthAdjust="spacingAndGlyphs">132</text>
<circle cx="429.6" cy="2488.7" r="1.35" fill="#111"/>
<text x="439.1" y="2496.3" class="f" textLength="59.0" lengthAdjust="spacingAndGlyphs">100%</text>
<rect x="506.6" y="2486.1" width="15" height="1.4" fill="#111"/><rect x="506.6" y="2491.5" width="15" height="1.4" fill="#111"/>
<text x="527.6" y="2496.3" class="f" textLength="64.6" lengthAdjust="spacingAndGlyphs">21,2%</text>
<text x="27.9" y="2575.8" class="f" textLength="55.6" lengthAdjust="spacingAndGlyphs"><tspan class="i">ω</tspan>(<tspan class="i">O</tspan>)</text>
<rect x="89.5" y="2565.6" width="15" height="1.4" fill="#111"/><rect x="89.5" y="2571.0" width="15" height="1.4" fill="#111"/>
<rect x="111.5" y="2568.2" width="163.3" height="1.5" fill="#111"/>
<text x="156.3" y="2558.0" class="f" textLength="73.7" lengthAdjust="spacingAndGlyphs">4<tspan class="i">Ar</tspan>(<tspan class="i">O</tspan>)</text>
<text x="112.0" y="2590.3" class="f" textLength="162.3" lengthAdjust="spacingAndGlyphs"><tspan class="i">Mr</tspan>((<tspan class="i">NH</tspan><tspan class="fsub" dy="5">4</tspan><tspan dy="-5">)</tspan><tspan class="fsub" dy="5">2</tspan><tspan class="i" dy="-5">SO</tspan><tspan class="fsub" dy="5">4</tspan><tspan dy="-5">)</tspan></text>
<circle cx="283.3" cy="2568.2" r="1.35" fill="#111"/>
<text x="292.3" y="2575.8" class="f" textLength="58.7" lengthAdjust="spacingAndGlyphs">100%</text>
<rect x="358.5" y="2565.6" width="15" height="1.4" fill="#111"/><rect x="358.5" y="2571.0" width="15" height="1.4" fill="#111"/>
<rect x="381.5" y="2568.2" width="40.1" height="1.5" fill="#111"/>
<text x="389.1" y="2558.0" class="f" textLength="24.8" lengthAdjust="spacingAndGlyphs">64</text>
<text x="382.0" y="2590.3" class="f" textLength="39.1" lengthAdjust="spacingAndGlyphs">132</text>
<circle cx="429.6" cy="2568.2" r="1.35" fill="#111"/>
<text x="439.1" y="2575.8" class="f" textLength="59.0" lengthAdjust="spacingAndGlyphs">100%</text>
<rect x="506.6" y="2565.6" width="15" height="1.4" fill="#111"/><rect x="506.6" y="2571.0" width="15" height="1.4" fill="#111"/>
<text x="527.6" y="2575.8" class="f" textLength="62.9" lengthAdjust="spacingAndGlyphs">48,5%</text>
<text x="27.9" y="2654.8" class="f" textLength="50.1" lengthAdjust="spacingAndGlyphs"><tspan class="i">ω</tspan>(<tspan class="i">S</tspan>)</text>
<rect x="84.0" y="2644.6" width="15" height="1.4" fill="#111"/><rect x="84.0" y="2650.0" width="15" height="1.4" fill="#111"/>
<rect x="106.0" y="2647.2" width="164.4" height="1.5" fill="#111"/>
<text x="159.0" y="2637.0" class="f" textLength="58.4" lengthAdjust="spacingAndGlyphs"><tspan class="i">Ar</tspan>(<tspan class="i">S</tspan>)</text>
<text x="106.5" y="2669.3" class="f" textLength="163.4" lengthAdjust="spacingAndGlyphs"><tspan class="i">Mr</tspan>((<tspan class="i">NH</tspan><tspan class="fsub" dy="5">4</tspan><tspan dy="-5">)</tspan><tspan class="fsub" dy="5">2</tspan><tspan class="i" dy="-5">SO</tspan><tspan class="fsub" dy="5">4</tspan><tspan dy="-5">)</tspan></text>
<circle cx="278.9" cy="2647.2" r="1.35" fill="#111"/>
<text x="287.9" y="2654.8" class="f" textLength="58.6" lengthAdjust="spacingAndGlyphs">100%</text>
<rect x="354.0" y="2644.6" width="15" height="1.4" fill="#111"/><rect x="354.0" y="2650.0" width="15" height="1.4" fill="#111"/>
<rect x="377.0" y="2647.2" width="40.7" height="1.5" fill="#111"/>
<text x="384.9" y="2637.0" class="f" textLength="24.8" lengthAdjust="spacingAndGlyphs">32</text>
<text x="377.5" y="2669.3" class="f" textLength="39.7" lengthAdjust="spacingAndGlyphs">132</text>
<circle cx="425.7" cy="2647.2" r="1.35" fill="#111"/>
<text x="435.2" y="2654.8" class="f" textLength="59.0" lengthAdjust="spacingAndGlyphs">100%</text>
<rect x="502.7" y="2644.6" width="15" height="1.4" fill="#111"/><rect x="502.7" y="2650.0" width="15" height="1.4" fill="#111"/>
<text x="523.7" y="2654.8" class="f" textLength="64.0" lengthAdjust="spacingAndGlyphs">24,2%</text>
<text x="427.8" y="2304.5" class="wl" textLength="105.5" lengthAdjust="spacingAndGlyphs">reshaka.com</text>
<text x="68.8" y="2328.0" class="wl" textLength="105.5" lengthAdjust="spacingAndGlyphs">reshaka.com</text>
<text x="248.0" y="2312.0" class="wl" textLength="105.5" lengthAdjust="spacingAndGlyphs">reshaka.com</text>
<text x="608.5" y="2328.5" class="wl" textLength="105.5" lengthAdjust="spacingAndGlyphs">reshaka.com</text>
<text x="428.9" y="2392.5" class="wl" textLength="105.5" lengthAdjust="spacingAndGlyphs">reshaka.com</text>
<text x="608.5" y="2415.5" class="wl" textLength="105.5" lengthAdjust="spacingAndGlyphs">reshaka.com</text>
<text x="40.0" y="2449.0" class="wl" textLength="105.5" lengthAdjust="spacingAndGlyphs">reshaka.com</text>
<text x="247.8" y="2452.0" class="wl" textLength="105.5" lengthAdjust="spacingAndGlyphs">reshaka.com</text>
<text x="68.0" y="2537.0" class="wl" textLength="105.5" lengthAdjust="spacingAndGlyphs">reshaka.com</text>
<text x="248.0" y="2541.0" class="wl" textLength="105.5" lengthAdjust="spacingAndGlyphs">reshaka.com</text>
<text x="427.8" y="2512.0" class="wl" textLength="105.5" lengthAdjust="spacingAndGlyphs">reshaka.com</text>
<text x="608.5" y="2503.0" class="wl" textLength="105.5" lengthAdjust="spacingAndGlyphs">reshaka.com</text>
<text x="55.7" y="2623.5" class="wl" textLength="105.5" lengthAdjust="spacingAndGlyphs">reshaka.com</text>
<text x="248.0" y="2629.0" class="wl" textLength="105.5" lengthAdjust="spacingAndGlyphs">reshaka.com</text>
<text x="427.8" y="2601.0" class="wl" textLength="105.5" lengthAdjust="spacingAndGlyphs">reshaka.com</text>
<text x="608.5" y="2593.0" class="wl" textLength="105.5" lengthAdjust="spacingAndGlyphs">reshaka.com</text>
<text x="427.8" y="2686.5" class="wl" textLength="105.5" lengthAdjust="spacingAndGlyphs">reshaka.com</text>
<text x="608.5" y="2680.5" class="wl" textLength="105.5" lengthAdjust="spacingAndGlyphs">reshaka.com</text>
<text x="68.3" y="2712.0" class="wl" textLength="105.5" lengthAdjust="spacingAndGlyphs">reshaka.com</text>
<text x="247.8" y="2715.0" class="wl" textLength="105.5" lengthAdjust="spacingAndGlyphs">reshaka.com</text>
<rect x="30.4" y="2744.2" width="480.5" height="360.8000000000002" fill="none" stroke="#9c9c9c" stroke-width="1.4"/>
<path d="M252.5,2891.6 L252.5,2762.6 A129,129 0 0 1 300.7,2772.0 Z" fill="#4F81BD"/>
<path d="M275.5,2908.1 L323.7,2788.4 A129,129 0 0 1 403.1,2926.6 Z" fill="#C0504D"/>
<path d="M242.7,2958.8 L370.3,2977.4 A129,129 0 0 1 113.9,2952.4 Z" fill="#9BBB59"/>
<path d="M222.6,2900.4 L93.7,2893.9 A129,129 0 0 1 222.6,2771.4 Z" fill="#8064A2"/>
<text x="252.9" y="2834.8" class="lb" textLength="21.3" lengthAdjust="spacingAndGlyphs">6,1</text>
<text x="316.7" y="2882.7" class="lb" textLength="27.7" lengthAdjust="spacingAndGlyphs">21,2</text>
<text x="222.2" y="3028.1" class="lb" textLength="28.3" lengthAdjust="spacingAndGlyphs">48,5</text>
<text x="164.2" y="2859.7" class="lb" textLength="28.4" lengthAdjust="spacingAndGlyphs">24,2</text>
<rect x="470.6" y="2874.0" width="9.2" height="8.8" fill="#4F81BD"/>
<text x="483.4" y="2883.3" class="lg">H</text>
<rect x="470.6" y="2904.5" width="9.2" height="8.8" fill="#C0504D"/>
<text x="483.4" y="2913.8" class="lg">N</text>
<rect x="470.6" y="2935.0" width="9.2" height="8.8" fill="#9BBB59"/>
<text x="483.4" y="2944.3" class="lg">O</text>
<rect x="470.6" y="2965.5" width="9.2" height="8.8" fill="#8064A2"/>
<text x="483.4" y="2974.8" class="lg">S</text>
<text x="429.0" y="2775.0" class="wl" textLength="105.5" lengthAdjust="spacingAndGlyphs">reshaka.com</text>
<text x="609.0" y="2767.0" class="wl" textLength="105.5" lengthAdjust="spacingAndGlyphs">reshaka.com</text>
<text x="144.3" y="2820.4" class="wl" textLength="105.5" lengthAdjust="spacingAndGlyphs">reshaka.com</text>
<text x="400.0" y="2862.6" class="wl" textLength="105.5" lengthAdjust="spacingAndGlyphs">reshaka.com</text>
<text x="609.0" y="2855.0" class="wl" textLength="105.5" lengthAdjust="spacingAndGlyphs">reshaka.com</text>
<text x="77.0" y="2912.0" class="wl" textLength="105.5" lengthAdjust="spacingAndGlyphs">reshaka.com</text>
<text x="360.0" y="2950.7" class="wl" textLength="105.5" lengthAdjust="spacingAndGlyphs">reshaka.com</text>
<text x="609.0" y="2943.0" class="wl" textLength="105.5" lengthAdjust="spacingAndGlyphs">reshaka.com</text>
<text x="180.0" y="3000.0" class="wl" textLength="105.5" lengthAdjust="spacingAndGlyphs">reshaka.com</text>
<text x="79.0" y="3085.0" class="wl" textLength="105.5" lengthAdjust="spacingAndGlyphs">reshaka.com</text>
<text x="429.0" y="3039.0" class="wl" textLength="105.5" lengthAdjust="spacingAndGlyphs">reshaka.com</text>
<text x="609.0" y="3030.5" class="wl" textLength="105.5" lengthAdjust="spacingAndGlyphs">reshaka.com</text>
<text x="429.0" y="3126.8" class="wl" textLength="105.5" lengthAdjust="spacingAndGlyphs">reshaka.com</text>
<text x="609.0" y="3118.0" class="wl" textLength="105.5" lengthAdjust="spacingAndGlyphs">reshaka.com</text>
<text x="211.0" y="3194.7" class="wl" textLength="105.5" lengthAdjust="spacingAndGlyphs">reshaka.com</text>
<text x="421.4" y="3226.4" class="wl" textLength="105.5" lengthAdjust="spacingAndGlyphs">reshaka.com</text>
<text x="600.0" y="3222.6" class="wl" textLength="105.5" lengthAdjust="spacingAndGlyphs">reshaka.com</text>
<text x="37.0" y="2995.0" class="ws" textLength="69.0" lengthAdjust="spacingAndGlyphs">reshaka.com</text>
<text x="285.5" y="3089.0" class="ws" textLength="69.0" lengthAdjust="spacingAndGlyphs">reshaka.com</text>
<text x="69.0" y="3191.6" class="ws" textLength="69.0" lengthAdjust="spacingAndGlyphs">reshaka.com</text>
<text x="29.7" y="3148.5" class="p" textLength="686.0" lengthAdjust="spacingAndGlyphs">Наиболее важный для жизнедеятельности растений элемент – азот.</text>
<text x="29.7" y="3179.0" class="p" textLength="686.0" lengthAdjust="spacingAndGlyphs">Сравнив диаграммы, можно увидеть, что максимальное содержание</text>
<text x="27.3" y="3209.5" class="p" textLength="51.7" lengthAdjust="spacingAndGlyphs">азота</text>
<text x="99.0" y="3209.5" class="p" textLength="137.0" lengthAdjust="spacingAndGlyphs">присутствует</text>
<text x="254.0" y="3209.5" class="p" textLength="10.3" lengthAdjust="spacingAndGlyphs">в</text>
<text x="284.0" y="3209.5" class="p" textLength="71.0" lengthAdjust="spacingAndGlyphs">нитрате</text>
<text x="377.0" y="3209.5" class="p" textLength="93.4" lengthAdjust="spacingAndGlyphs">аммония,</text>
<text x="494.7" y="3209.5" class="p" textLength="69.9" lengthAdjust="spacingAndGlyphs">поэтому</text>
<text x="600.0" y="3209.5" class="p" textLength="31.6" lengthAdjust="spacingAndGlyphs">его</text>
<text x="649.8" y="3209.5" class="p" textLength="64.2" lengthAdjust="spacingAndGlyphs">можно</text>
<text x="29.7" y="3241.5" class="p" textLength="428.0" lengthAdjust="spacingAndGlyphs">использовать, как минеральное удобрение.</text>
</svg>
</body></html>
